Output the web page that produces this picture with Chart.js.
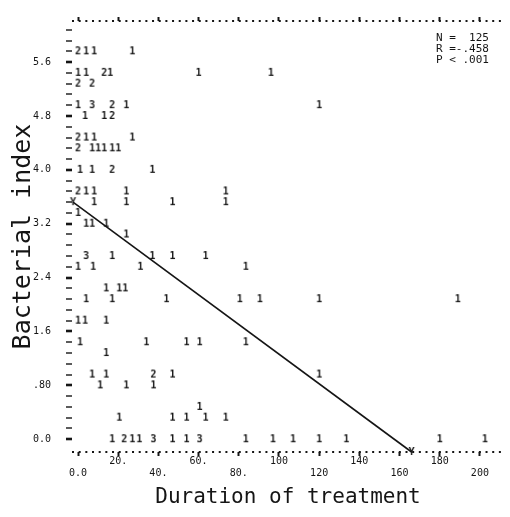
<!DOCTYPE html>
<html lang="en">
<head>
<meta charset="UTF-8">
<title>Bacterial index vs duration of treatment</title>
<style>
  html, body { margin: 0; padding: 0; background: #fff; }
  #wrap { width: 510px; height: 517px; position: relative; }
</style>
</head>
<body>
<div id="wrap"><canvas id="scatter"></canvas></div>
<script src="https://cdn.jsdelivr.net/npm/chart.js"></script>
<script>
// printer plot: one entry per print row, cells give x and the number of cases
const rowY = [5.76, 5.44, 5.28, 4.96, 4.80, 4.48, 4.32, 4.00, 3.68, 3.52, 3.36, 3.20, 3.04,
              2.72, 2.56, 2.24, 2.08, 1.76, 1.44, 1.28, 0.96, 0.80, 0.48, 0.32, 0.00];
const rowCellX = [
  [0, 4, 8, 27],
  [0, 4, 13, 16, 60, 96],
  [0, 7],
  [0, 7, 17, 24, 120],
  [3.5, 13, 17],
  [0, 4, 8, 27],
  [0, 7, 10, 13, 17, 20],
  [1, 7, 17, 37],
  [0, 4, 8, 24, 73.5],
  [8, 24, 47, 73.5],
  [0],
  [4, 7, 14],
  [24],
  [4, 17, 37, 47, 63.5],
  [0, 7.5, 31, 83.5],
  [14, 20.5, 23.5],
  [4, 17, 44, 80.5, 90.5, 120, 189],
  [0, 3.5, 14],
  [1, 34, 54, 60.5, 83.5],
  [14],
  [7, 14, 37.5, 47, 120],
  [11, 24, 37.5],
  [60.5],
  [20.5, 47, 54, 63.5, 73.5],
  [17, 23, 27, 30.5, 37.5, 47, 54, 60.5, 83.5, 97, 107, 120, 133.5, 180, 202.5]
];
const rowCellN = [
  [2, 1, 1, 1],
  [1, 1, 2, 1, 1, 1],
  [2, 2],
  [1, 3, 2, 1, 1],
  [1, 1, 2],
  [2, 1, 1, 1],
  [2, 1, 1, 1, 1, 1],
  [1, 1, 2, 1],
  [2, 1, 1, 1, 1],
  [1, 1, 1, 1],
  [1],
  [1, 1, 1],
  [1],
  [3, 1, 1, 1, 1],
  [1, 1, 1, 1],
  [1, 1, 1],
  [1, 1, 1, 1, 1, 1, 1],
  [1, 1, 1],
  [1, 1, 1, 1, 1],
  [1],
  [1, 1, 2, 1, 1],
  [1, 1, 1],
  [1],
  [1, 1, 1, 1, 1],
  [1, 2, 1, 1, 3, 1, 1, 3, 1, 1, 1, 1, 1, 1, 1]
];

// regression line ends (marked Y on the printout)
const fitX = [-2.5, 166];
const fitY = [3.52, -0.19];

const xTicks = [0, 20, 40, 60, 80, 100, 120, 140, 160, 180, 200];
const xTickLabels = ['0.0', '20.', '40.', '60.', '80.', '100', '120', '140', '160', '180', '200'];
const yMin = -0.19, yMax = 6.21;
const yRowStep = 0.16;
const yRows = 38;
const yTickLabels = ['0.0', '.80', '1.6', '2.4', '3.2', '4.0', '4.8', '5.6'];
const stats = ['N =  125', 'R =-.458', 'P < .001'];

const ink = '#151515';
const mono = '"DejaVu Sans Mono", monospace';

// small canvases used as point styles so each cell prints its count
function glyph(ch) {
    const c = document.createElement('canvas');
    c.width = 9;
    c.height = 12;
    const g = c.getContext('2d');
    g.fillStyle = ink;
    g.font = 'bold 10px ' + mono;
    g.textAlign = 'center';
    g.textBaseline = 'middle';
    g.fillText(ch, 4.5, 6.5);
    return c;
}
const countGlyph = { 1: glyph('1'), 2: glyph('2'), 3: glyph('3') };
const endGlyph = glyph('Y');

const cells = rowY.flatMap((y, r) => rowCellX[r].map(x => ({ x: x, y: y })));
const cellStyles = rowCellN.flat().map(n => countGlyph[n]);

const statsBox = {
    id: 'statsBox',
    afterDraw(chart) {
        const { ctx, chartArea } = chart;
        ctx.save();
        ctx.fillStyle = ink;
        ctx.font = '11px ' + mono;
        ctx.textBaseline = 'middle';
        stats.forEach((s, i) => ctx.fillText(s, chartArea.right - 68, chartArea.top + 17 + i * 11.3));
        ctx.restore();
    }
};

// the dotted frame top and bottom comes from y grid lines at the axis ends
const isEdge = v => v === yMin || v === yMax;
const rowOf = v => Math.round(v / yRowStep);

const setXTicks = s => { s.ticks = xTicks.map(v => ({ value: v })); };
const plusTicks = { drawOnChartArea: false, tickLength: 4, tickWidth: 2, tickColor: ink };

new Chart(document.getElementById('scatter'), {
    type: 'scatter',
    data: {
        datasets: [
            {
                label: 'cases',
                data: cells,
                pointStyle: cellStyles,
                pointRadius: 3
            },
            {
                label: 'fit',
                data: fitX.map((x, i) => ({ x: x, y: fitY[i] })),
                showLine: true,
                borderColor: ink,
                borderWidth: 1.6,
                pointStyle: endGlyph,
                pointRadius: 3,
                clip: false
            }
        ]
    },
    options: {
        responsive: true,
        maintainAspectRatio: false,
        animation: false,
        events: [],
        layout: { padding: { left: 0, right: 6, top: 0, bottom: 0 } },
        plugins: {
            legend: { display: false },
            tooltip: { enabled: false }
        },
        scales: {
            x: {
                type: 'linear',
                position: 'bottom',
                min: -3,
                max: 212,
                afterBuildTicks: setXTicks,
                afterFit: s => { s.height = 65; },
                border: { display: false },
                grid: plusTicks,
                ticks: {
                    autoSkip: false,
                    maxRotation: 0,
                    padding: 0,
                    color: ink,
                    font: { family: mono, size: 10, lineHeight: 1.15 },
                    callback: (v, i) => i % 2 ? [xTickLabels[i], ''] : ['', xTickLabels[i]]
                },
                title: {
                    display: true,
                    text: 'Duration of treatment',
                    color: ink,
                    font: { family: mono, size: 21 },
                    padding: { top: 0, bottom: 7 }
                }
            },
            x2: {
                type: 'linear',
                position: 'top',
                min: -3,
                max: 212,
                afterBuildTicks: setXTicks,
                afterFit: s => { s.height = 15; },
                border: { display: false },
                grid: plusTicks,
                ticks: { display: false }
            },
            y: {
                type: 'linear',
                min: yMin,
                max: yMax,
                afterBuildTicks: s => {
                    s.ticks = [{ value: yMin }];
                    for (let r = 0; r <= yRows; r++) s.ticks.push({ value: r * yRowStep });
                    s.ticks.push({ value: yMax });
                },
                afterFit: s => { s.width = 72; },
                border: { display: false, dash: [2, 4.67] },
                grid: {
                    drawOnChartArea: true,
                    color: ink,
                    lineWidth: c => isEdge(c.tick.value) ? 2 : 0,
                    tickLength: 6,
                    tickColor: c => isEdge(c.tick.value) ? 'rgba(0,0,0,0)' : ink,
                    tickWidth: c => rowOf(c.tick.value) % 5 === 0 ? 2.6 : 1.4
                },
                ticks: {
                    autoSkip: false,
                    padding: 15,
                    color: ink,
                    font: { family: mono, size: 10 },
                    callback: v => {
                        const r = rowOf(v);
                        return !isEdge(v) && r % 5 === 0 ? yTickLabels[r / 5] : '';
                    }
                },
                title: {
                    display: true,
                    text: 'Bacterial index',
                    color: ink,
                    font: { family: mono, size: 25 },
                    padding: { top: 8, bottom: 0 }
                }
            }
        }
    },
    plugins: [statsBox]
});
</script>
</body>
</html>
